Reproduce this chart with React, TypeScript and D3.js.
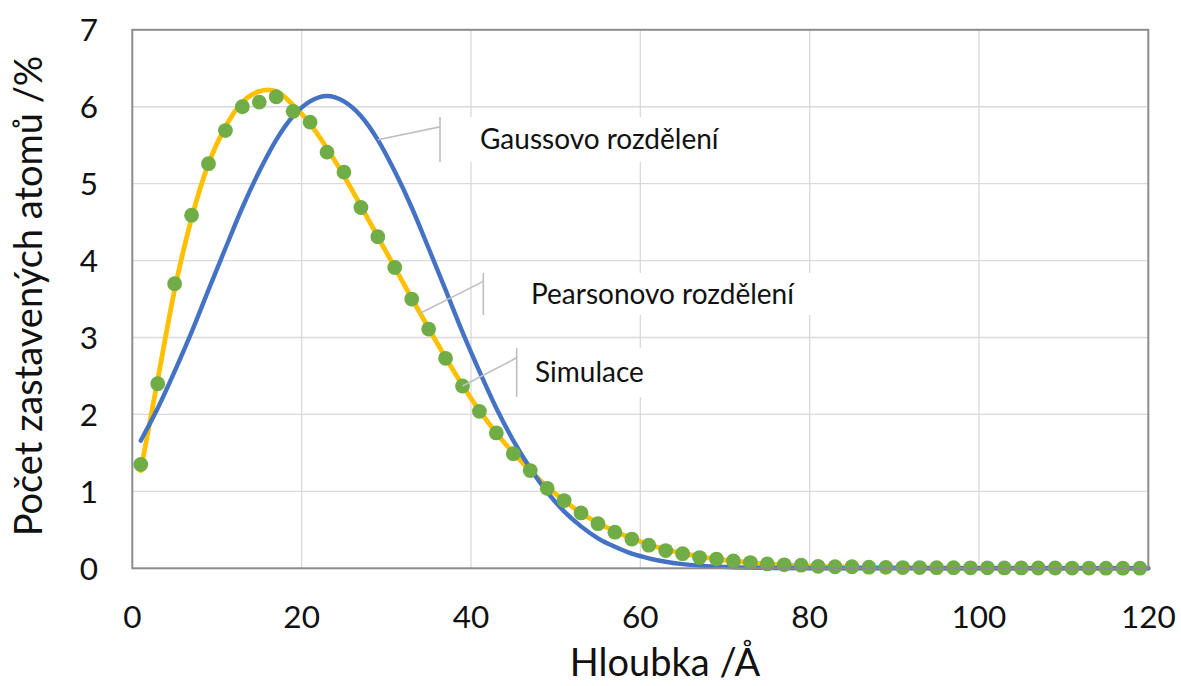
import React from "react";
import * as d3 from "d3";

// Depth axis (Å) and atom share (%)
const xTicks = [0, 20, 40, 60, 80, 100, 120];
const yTicks = [0, 1, 2, 3, 4, 5, 6, 7];

// Simulated implantation profile (markers)
const simDepth = [
  1, 3, 5, 7, 9, 11, 13, 15, 17, 19, 21, 23, 25, 27, 29, 31, 33, 35, 37, 39,
  41, 43, 45, 47, 49, 51, 53, 55, 57, 59, 61, 63, 65, 67, 69, 71, 73, 75, 77, 79,
  81, 83, 85, 87, 89, 91, 93, 95, 97, 99, 101, 103, 105, 107, 109, 111, 113, 115, 117, 119,
];
const simValues = [
  1.35, 2.4, 3.7, 4.59, 5.26, 5.69, 6.0, 6.06, 6.13, 5.94, 5.8, 5.41, 5.15, 4.69, 4.31, 3.91, 3.5, 3.11, 2.73, 2.37,
  2.04, 1.76, 1.49, 1.27, 1.04, 0.88, 0.72, 0.58, 0.47, 0.38, 0.3, 0.23, 0.19, 0.14, 0.12, 0.095, 0.075, 0.057, 0.045, 0.04,
  0.025, 0.02, 0.02, 0.015, 0.012, 0.01, 0.01, 0.008, 0.008, 0.006, 0.006, 0.005, 0.005, 0.004, 0.004, 0.003, 0.003, 0.002, 0.002, 0.002,
];

// Gaussian fit
const gaussDepth = [
  1, 3, 5, 7, 9, 11, 13, 15, 17, 19, 21, 23, 25, 27, 29, 31, 33, 35, 37, 39,
  41, 43, 45, 47, 49, 51, 53, 55, 57, 59, 61, 63, 65, 67, 69, 71, 73, 75, 77, 80, 90, 100, 110, 120,
];
const gaussValues = [
  1.66, 2.08, 2.56, 3.07, 3.62, 4.16, 4.69, 5.16, 5.57, 5.88, 6.07, 6.14, 6.07, 5.88, 5.57, 5.16, 4.69, 4.16, 3.62, 3.07,
  2.56, 2.08, 1.66, 1.3, 0.99, 0.74, 0.545, 0.39, 0.28, 0.19, 0.13, 0.085, 0.055, 0.035, 0.022, 0.013, 0.008, 0.005, 0.003, 0.001, 0, 0, 0, 0,
];

// Pearson fit
const pearsonDepth = [
  1, 3, 5, 7, 9, 11, 13, 15, 16, 17, 19, 21, 23, 25, 27, 29, 31, 33, 35, 37, 39,
  41, 43, 45, 47, 49, 51, 53, 55, 57, 59, 61, 63, 65, 67, 69, 71, 73, 75, 77, 79,
  81, 85, 90, 95, 100, 110, 120,
];
const pearsonValues = [
  1.27, 2.45, 3.62, 4.55, 5.26, 5.74, 6.06, 6.2, 6.22, 6.2, 6.02, 5.78, 5.46, 5.1, 4.71, 4.31, 3.91, 3.51, 3.12, 2.74, 2.38,
  2.05, 1.76, 1.5, 1.27, 1.06, 0.88, 0.72, 0.59, 0.48, 0.39, 0.31, 0.245, 0.195, 0.155, 0.12, 0.095, 0.073, 0.057, 0.044, 0.034,
  0.026, 0.015, 0.008, 0.004, 0.002, 0.001, 0,
];

const labelNames = ["Gaussovo rozdělení", "Pearsonovo rozdělení", "Simulace"];
const labelAnchorDepth = [29, 34, 39];

const W = 1181;
const H = 686;
const FONT = "Lato, 'Open Sans', sans-serif";

const x = d3.scaleLinear().domain([0, 120]).range([132.3, 1148.3]);
const y = d3.scaleLinear().domain([0, 7]).range([568.3, 29.8]);

const interp = (xs: number[], ys: number[], v: number) => {
  const i = d3.bisectLeft(xs, v);
  if (xs[i] === v) return ys[i];
  const t = (v - xs[i - 1]) / (xs[i] - xs[i - 1]);
  return ys[i - 1] + t * (ys[i] - ys[i - 1]);
};

export default function App() {
  const line = d3
    .line<[number, number]>()
    .x((d) => x(d[0]))
    .y((d) => y(d[1]))
    .curve(d3.curveMonotoneX);

  const gaussPath = line(gaussDepth.map((d, i) => [d, gaussValues[i]]) as [number, number][]) || "";
  const pearsonPath = line(pearsonDepth.map((d, i) => [d, pearsonValues[i]]) as [number, number][]) || "";

  const anchors = [
    [labelAnchorDepth[0], interp(gaussDepth, gaussValues, labelAnchorDepth[0])],
    [labelAnchorDepth[1], interp(pearsonDepth, pearsonValues, labelAnchorDepth[1])],
    [labelAnchorDepth[2], interp(simDepth, simValues, labelAnchorDepth[2])],
  ];

  // callout boxes: bracket x, top, bottom, text x, box right
  const boxes = [
    { bx: 440, top: 117, bottom: 162, tx: 480, right: 770 },
    { bx: 483.3, top: 273, bottom: 315, tx: 531, right: 840 },
    { bx: 516.7, top: 348, bottom: 397, tx: 535, right: 680 },
  ];

  const left = x(0);
  const right = x(120);
  const top = y(7);
  const bottom = y(0);

  return (
    <svg
      width={W}
      height={H}
      style={{ position: "absolute", left: 0, top: 0, background: "#fff" }}
      fontFamily={FONT}
    >
      <rect x={0} y={0} width={W} height={H} fill="#fff" />

      {/* gridlines */}
      {yTicks
        .filter((t) => t > 0 && t < 7)
        .map((t) => (
          <line key={"gy" + t} x1={left} x2={right} y1={y(t)} y2={y(t)} stroke="#d9d9d9" strokeWidth={1.3} />
        ))}
      {xTicks
        .filter((t) => t > 0 && t < 120)
        .map((t) => (
          <line key={"gx" + t} x1={x(t)} x2={x(t)} y1={top} y2={bottom} stroke="#d9d9d9" strokeWidth={1.3} />
        ))}

      {/* label backgrounds */}
      {boxes.map((b, i) => (
        <rect key={"bg" + i} x={b.bx} y={b.top} width={b.right - b.bx} height={b.bottom - b.top} fill="#fff" />
      ))}

      {/* series */}
      <path d={pearsonPath} fill="none" stroke="#FFC000" strokeWidth={4.8} strokeLinecap="round" />
      <path d={gaussPath} fill="none" stroke="#4472C4" strokeWidth={4.4} strokeLinecap="round" />
      {simDepth.map((d, i) => (
        <circle key={"p" + i} cx={x(d)} cy={y(simValues[i])} r={7.4} fill="#70AD47" />
      ))}

      {/* callouts */}
      {boxes.map((b, i) => {
        const ax = x(anchors[i][0]);
        const ay = y(anchors[i][1]);
        const my = (b.top + b.bottom) / 2;
        const ly = b.top + (b.bottom - b.top) * 0.22;
        return (
          <g key={"c" + i}>
            <line x1={ax} y1={ay} x2={b.bx} y2={i === 0 ? ly : b.top + (b.bottom - b.top) * 0.2} stroke="#bfbfbf" strokeWidth={1.6} />
            <line x1={b.bx} x2={b.bx} y1={b.top} y2={b.bottom} stroke="#bfbfbf" strokeWidth={1.6} />
            <text x={b.tx} y={my} dy="0.35em" fontSize={28} fill="#111">
              {labelNames[i]}
            </text>
          </g>
        );
      })}

      {/* plot border */}
      <rect x={left} y={top} width={right - left} height={bottom - top} fill="none" stroke="#8c8c8c" strokeWidth={2} />

      {/* tick labels */}
      {yTicks.map((t) => (
        <text key={"ty" + t} x={98} y={y(t)} dy="0.36em" textAnchor="end" fontSize={31.5} fill="#111">
          {t}
        </text>
      ))}
      {xTicks.map((t) => (
        <text key={"tx" + t} x={x(t)} y={616.5} dy="0.36em" textAnchor="middle" fontSize={31.5} fill="#111">
          {t}
        </text>
      ))}

      {/* axis titles */}
      <text x={665} y={676} textAnchor="middle" fontSize={38} fill="#111">
        Hloubka /Å
      </text>
      <text
        transform={`translate(42,296) rotate(-90)`}
        textAnchor="middle"
        fontSize={38}
        fill="#111"
      >
        Počet zastavených atomů /%
      </text>
    </svg>
  );
}
